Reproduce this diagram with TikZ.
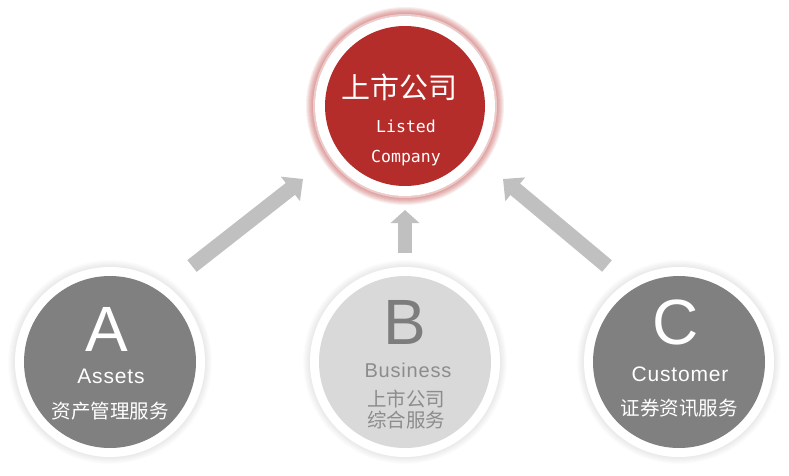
\documentclass[tikz,border=0pt]{standalone}
\usepackage{fontspec}
\setmainfont{Noto Sans CJK SC}
\newfontfamily\latinfont[LetterSpace=4]{Liberation Sans}
\newfontfamily\letterfont{Liberation Sans}
\newfontfamily\monofont{DejaVu Sans Mono}
\usepackage{tikz}
\usetikzlibrary{arrows.meta,positioning}

\definecolor{listedred}{RGB}{181,45,42}
\definecolor{darkdisc}{RGB}{128,128,128}
\definecolor{lightdisc}{RGB}{217,217,217}
\definecolor{arrowgray}{RGB}{192,192,192}
\definecolor{bletter}{RGB}{125,125,125}
\definecolor{btext}{RGB}{140,140,140}

\tikzset{
  ring/.style={circle, fill=white, inner sep=0pt, minimum size=190pt},
  disc/.style={circle, inner sep=0pt, minimum size=172pt},
  letter/.style={inner sep=0pt, font=\letterfont\fontsize{64}{64}\selectfont},
  eng/.style={inner sep=0pt, font=\latinfont\fontsize{21}{21}\selectfont},
  chn/.style={inner sep=0pt, font=\fontsize{19.5}{19.5}\selectfont},
  fat arrow/.style={draw=arrowgray, line width=15pt, -{Triangle[width=30pt, length=16pt]}},
}

\begin{document}
\begin{tikzpicture}[x=1pt, y=-1pt]
  \useasboundingbox (0,0) rectangle (789,476);

  % soft edges round the rings
  \foreach \cx/\cy/\cr/\cc/\co in {405/106/92/listedred/.08, 110/362/95/black/.01, 405/362/95/black/.01, 679/362/95/black/.01}
    \foreach \i in {1,...,7}
      \fill[\cc, opacity=\co] (\cx,\cy) circle ({(\cr+\i)*1pt});
  \draw[listedred!25, line width=2pt] (405,106) circle (91pt);

  \node (listedring)[ring, minimum size=180pt] at (405,106) {};
  \node (listed)[disc, fill=listedred, minimum size=160pt] at (listedring) {};
  \node (listedcn)[inner sep=0pt, text=white, font=\fontsize{29}{29}\selectfont] at (399,87) {上市公司};
  \node (listeden)[inner sep=0pt, text=white, font=\monofont\fontsize{16.5}{16.5}\selectfont] at (406,126) {Listed};
  \node (listedco)[inner sep=0pt, text=white, font=\monofont\fontsize{16.5}{16.5}\selectfont] at (406,158) {Company};

  \node (assetsring)[ring] at (110,362) {};
  \node (assets)[disc, fill=darkdisc] at (assetsring) {};
  \node (aletter)[letter, text=white] at (107,329) {A};
  \node (aen)[eng, text=white] at (111,376.5) {Assets};
  \node (acn)[chn, text=white] at (110,411) {资产管理服务};

  \node (businessring)[ring] at (405,362) {};
  \node (business)[disc, fill=lightdisc] at (businessring) {};
  \node (bletter)[letter, text=bletter] at (405,322) {B};
  \node (ben)[eng, text=btext, font=\latinfont\fontsize{20}{20}\selectfont] at (408,370.5) {Business};
  \node (bcn)[chn, text=btext] at (406,399) {上市公司};
  \node (bcn2)[chn, text=btext] at (406,420) {综合服务};

  \node (customerring)[ring] at (679,362) {};
  \node (customer)[disc, fill=darkdisc] at (customerring) {};
  \node (cletter)[letter, text=white] at (676,322) {C};
  \node (cen)[eng, text=white] at (680,374) {Customer};
  \node (ccn)[chn, text=white] at (679,408) {证券资讯服务};

  % arrows up to the company
  \coordinate (atail) at (192,266);
  \coordinate (atip) at (303,179);
  \coordinate (btail) at (405,253);
  \coordinate (btip) at (405,210);
  \coordinate (ctail) at (607,266);
  \coordinate (ctip) at (503,179);
  \draw[fat arrow] (atail) -- (atip);
  \draw[fat arrow, line width=14pt, -{Triangle[width=28pt, length=13pt]}] (btail) -- (btip);
  \draw[fat arrow] (ctail) -- (ctip);
\end{tikzpicture}
\end{document}
